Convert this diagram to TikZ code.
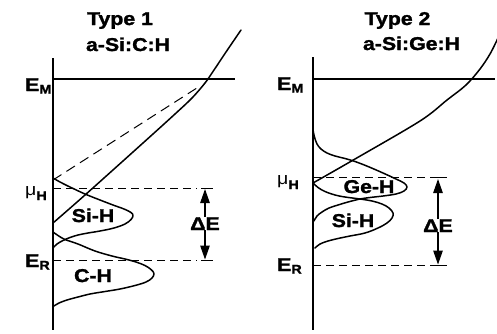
\documentclass[tikz,border=0pt]{standalone}
\usepackage{fontspec}
\setmainfont{Liberation Sans}[FakeStretch=1.15, BoldFeatures={FakeBold=1.6}]
\usetikzlibrary{arrows.meta}
\newcommand\lvlab[2]{#1\raisebox{-2.5pt}{\fontsize{12.5}{12}\selectfont #2}}
\newcommand\mulab{{\mdseries\fontsize{17}{16}\selectfont μ}\raisebox{-5pt}{\fontsize{12.5}{12}\selectfont H}}
\begin{document}
\begin{tikzpicture}[x=1pt,y=-1pt,
  lbl/.style={font=\bfseries\fontsize{18.5}{20}\selectfont, inner sep=0pt, anchor=base},
  lvl/.style={font=\bfseries\fontsize{18.5}{20}\selectfont, inner sep=0pt, anchor=base west},
  axisline/.style={line width=1.3pt},
  levelline/.style={line width=1.1pt},
  curve/.style={line width=1.5pt, line join=round, line cap=round},
  dashline/.style={line width=1pt, dash pattern=on 8pt off 5pt},
  tick/.style={line width=1pt},
  darrow/.style={line width=1.2pt, -{Triangle[length=14pt,width=9.5pt]}},
]
\useasboundingbox (0,0) rectangle (497,333);

% ---------------- Type 1 ----------------
\node[lbl] (t1a) at (120,25) {Type 1};
\node[lbl] (t1b) at (128,51) {a-Si:C:H};
\draw[axisline] (53,58) -- (53,330);
\draw[levelline] (53,79) -- (235,79);
\node[lvl] (em1) at (25,91) {\lvlab{E}{M}};
\node[lvl] (mu1) at (25,195) {\mulab};
\node[lvl] (er1) at (25,267) {\lvlab{E}{R}};
\draw[dashline] (53,188) -- (197,188);
\draw[dashline] (53,260) -- (197,260);
\draw[tick] (201,188) -- (213,188);
\draw[tick] (201,260) -- (213,260);
\coordinate (up1) at (205,189);
\coordinate (dn1) at (205,259.5);
\draw[line width=1pt, dash pattern=on 10pt off 6pt] (53,180) -- (200,86);
\draw[curve] plot[smooth, tension=0.55] coordinates {(53,223) (85,195) (143,143) (175,114) (192,98) (205,83) (214,70) (226,52) (241,30)};
% Si-H
\draw[curve] plot[smooth, tension=0.6] coordinates {(53,178) (60,182) (70,187) (85,194) (100,200) (113,205) (124,209) (131,212.5) (133,215.5) (131,219.5) (125,224) (114,228) (100,231) (88,233) (78,235) (70,237.5) (63,240.5) (57,244) (53,248)};
% C-H
\draw[curve] plot[smooth, tension=0.6] coordinates {(53,232) (58,235.5) (65,239.5) (78,244) (95,251) (112,256) (125,259) (136,262) (145,265.5) (151,269.5) (154,273.5) (152,278) (146,282) (135,285.5) (120,289) (105,291.5) (90,294) (78,297) (67,300) (59,303) (54,306)};
\node[lbl] (sih1) at (93,222) {Si-H};
\node[lbl] (ch1) at (93,282) {C-H};
\node[lbl] (de1) at (205,230) {ΔE};
\draw[darrow] (de1.north) -- (up1);
\draw[darrow] (de1.south) -- (dn1);

% ---------------- Type 2 ----------------
\node[lbl] (t2a) at (397.5,25) {Type 2};
\node[lbl] (t2b) at (411.5,50) {a-Si:Ge:H};
\draw[axisline] (313,57) -- (313,330);
\draw[levelline] (313,79) -- (495,79);
\node[lvl] (em2) at (277,90) {\lvlab{E}{M}};
\node[lvl] (mu2) at (277,184) {\mulab};
\node[lvl] (er2) at (277,271) {\lvlab{E}{R}};
\draw[dashline] (313,177) -- (426,177);
\draw[dashline] (313,265) -- (426,265);
\draw[tick] (430,177) -- (447,177);
\draw[tick] (430,265) -- (447,265);
\coordinate (up2) at (438,179);
\coordinate (dn2) at (438,264.5);
\draw[curve] plot[smooth, tension=0.55] coordinates {(313,183) (355,159) (420,121) (447,100) (466,85) (480,69) (490,54) (498,38)};
% Ge-H
\draw[curve] plot[smooth, tension=0.6] coordinates {(313,130) (314.5,137) (317,144) (321,149) (327,153) (335,156) (345,158.5) (355,161.5) (368,166.5) (383,173) (396,179) (404,183) (407,187) (404,191) (396,194) (383,196) (370,197.5) (360,199) (348,202) (338,205) (329,208) (322,212) (317,216) (314,221)};
% Si-H
\draw[curve] plot[smooth, tension=0.6] coordinates {(313,183) (318,187.5) (325,191.5) (335,195) (345,197) (360,199) (372,201) (382,204) (389,208) (393,213) (392,218) (387,223) (378,228) (365,233) (350,236) (338,238.5) (328,241) (320,244) (315,248)};
\node[lbl] (geh2) at (369,193) {Ge-H};
\node[lbl] (sih2) at (353,227) {Si-H};
\node[lbl] (de2) at (438,232) {ΔE};
\draw[darrow] (de2.north) -- (up2);
\draw[darrow] (de2.south) -- (dn2);
\end{tikzpicture}
\end{document}
